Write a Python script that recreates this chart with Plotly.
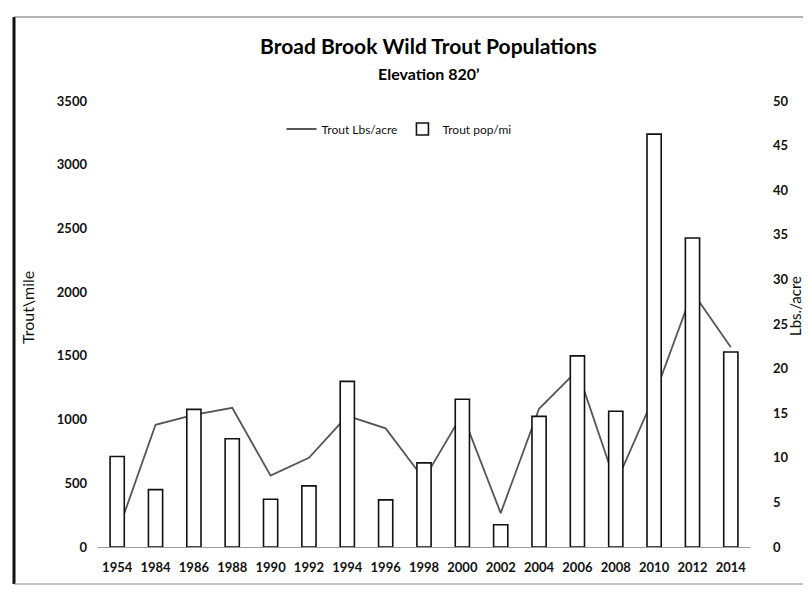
import plotly.graph_objects as go

years = ["1954", "1984", "1986", "1988", "1990", "1992", "1994", "1996", "1998",
         "2000", "2002", "2004", "2006", "2008", "2010", "2012", "2014"]
trout_pop_mi = [710, 450, 1080, 850, 375, 480, 1300, 370, 660,
                1160, 175, 1025, 1500, 1065, 3240, 2425, 1530]
trout_lbs_acre = [1.5, 13.7, 14.8, 15.6, 8.0, 10.0, 14.7, 13.3, 7.6,
                  14.9, 3.8, 15.5, 19.8, 7.1, 16.9, 28.6, 22.4]

W, H = 811, 589
L, R, T, B = 90, 69, 93, 50
pw, ph = W - L - R, H - T - B


def px(x):
    return (x - L) / pw


def py(y):
    return (H - B - y) / ph


FONT = "Lato"

fig = go.Figure()
fig.add_trace(go.Scatter(
    x=years, y=trout_lbs_acre, name="Trout Lbs/acre", mode="lines",
    line=dict(color="#555555", width=1.8), yaxis="y",
))
fig.add_trace(go.Bar(
    x=years, y=trout_pop_mi, name="Trout pop/mi", yaxis="y2",
    marker=dict(color="white", line=dict(color="#111111", width=1.6)),
))

tickfont = dict(family=FONT, size=13, color="#111111", weight="bold")

fig.update_layout(
    width=W, height=H,
    margin=dict(l=L, r=R, t=T, b=B, autoexpand=False),
    paper_bgcolor="white", plot_bgcolor="white",
    bargap=0.63,
    showlegend=True,
    legend=dict(orientation="h", x=px(391), xanchor="center", y=py(121), yanchor="middle",
                font=dict(family=FONT, size=12, color="#111111"), bgcolor="rgba(0,0,0,0)",
                itemwidth=30),
    xaxis=dict(type="category", showgrid=False, zeroline=False, showline=True,
               linecolor="#9a9a9a", linewidth=1, ticks="", tickfont=tickfont,
               ticklabelstandoff=8),
    yaxis=dict(side="right", range=[0, 50], dtick=5, showgrid=False, zeroline=False,
               showline=False, ticks="", tickfont=tickfont, ticklabelstandoff=22),
    yaxis2=dict(side="left", overlaying="y", range=[0, 3500], dtick=500, showgrid=False,
                zeroline=False, showline=False, ticks="", tickfont=tickfont,
                ticklabelstandoff=10),
    annotations=[
        dict(text="<b>Broad Brook Wild Trout Populations</b>", x=px(421), y=py(37),
             xref="paper", yref="paper", showarrow=False, xanchor="center", yanchor="middle",
             font=dict(family=FONT, size=21, color="#000000")),
        dict(text="<b>Elevation 820’</b>", x=px(421), y=py(65),
             xref="paper", yref="paper", showarrow=False, xanchor="center", yanchor="middle",
             font=dict(family=FONT, size=16, color="#000000")),
        dict(text="Trout\\mile", x=px(19), y=py(300), xref="paper", yref="paper",
             showarrow=False, textangle=-90, xanchor="center", yanchor="middle",
             font=dict(family=FONT, size=16, color="#111111")),
        dict(text="Lbs./acre", x=px(787), y=py(298), xref="paper", yref="paper",
             showarrow=False, textangle=-90, xanchor="center", yanchor="middle",
             font=dict(family=FONT, size=15, color="#111111")),
    ],
    shapes=[
        dict(type="line", xref="paper", yref="paper", x0=px(6), x1=px(6), y0=py(9), y1=py(576),
             line=dict(color="#111111", width=3)),
        dict(type="line", xref="paper", yref="paper", x0=px(6), x1=px(811), y0=py(9), y1=py(9),
             line=dict(color="#666666", width=1)),
        dict(type="line", xref="paper", yref="paper", x0=px(6), x1=px(811), y0=py(576), y1=py(576),
             line=dict(color="#888888", width=1)),
    ],
)

fig.write_html("out.html")
